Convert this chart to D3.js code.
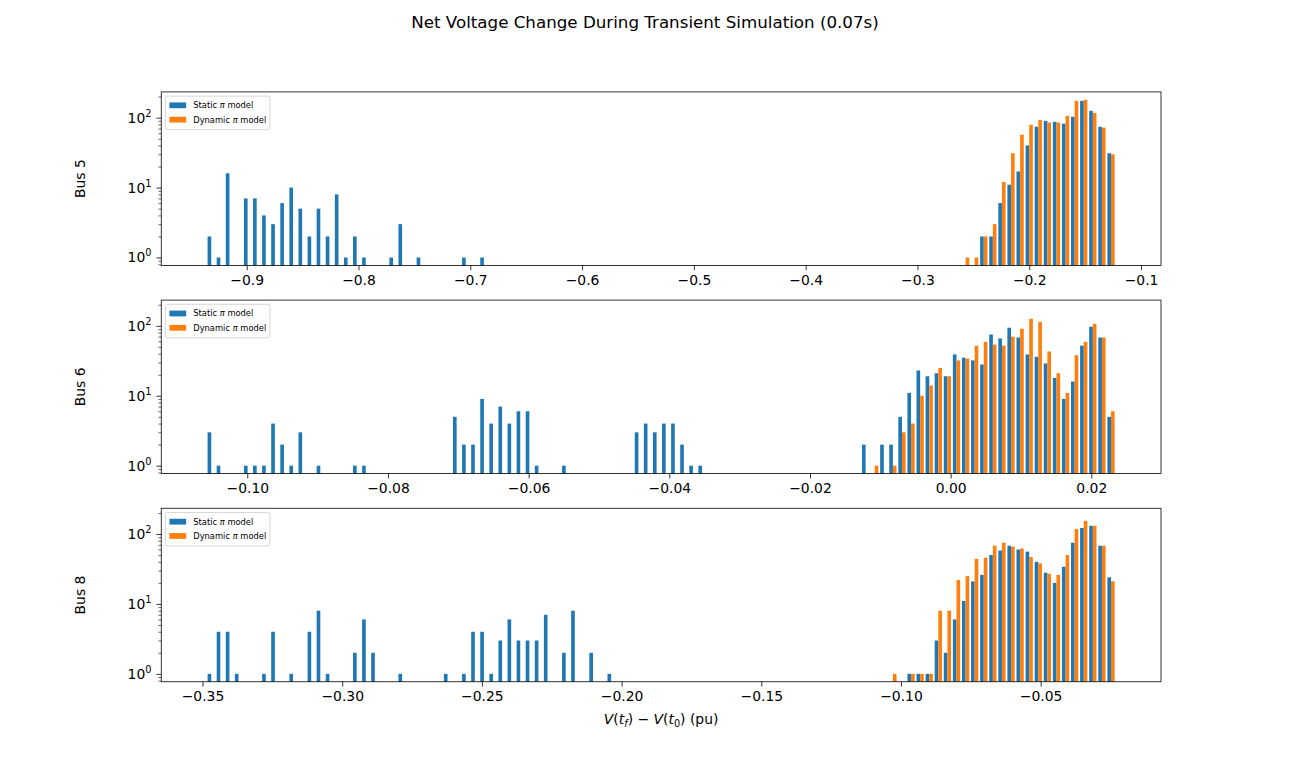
<!DOCTYPE html>
<html>
<head>
<meta charset="utf-8">
<script src="https://cdn.jsdelivr.net/npm/d3@7"></script>
<style>
  body { margin: 0; background: #fff; }
  text { font-family: "DejaVu Sans", sans-serif; }
</style>
</head>
<body>
<div id="chart"></div>
<script>
// ---- data (histogram counts, 100 equal bins between each bus's min and max) ----
var busNames = ["Bus 5", "Bus 6", "Bus 8"];
var seriesNames = ["Static", "Dynamic"];
var seriesColors = ["#1f77b4", "#ff7f0e"];

var bus5Range = [-0.93578, -0.12280];
var bus6Range = [-0.10577, 0.023443];
var bus8Range = [-0.34850, -0.02319];

var bus5Ticks = [-0.9, -0.8, -0.7, -0.6, -0.5, -0.4, -0.3, -0.2, -0.1];
var bus6Ticks = [-0.10, -0.08, -0.06, -0.04, -0.02, 0.00, 0.02];
var bus8Ticks = [-0.35, -0.30, -0.25, -0.20, -0.15, -0.10, -0.05];
var yTicks = [1, 10, 100];

var bus5Static = [
  2, 1, 16, 0, 7, 7, 4, 3, 6, 10,
  5, 2, 5, 2, 8, 1, 2, 1, 0, 0,
  1, 3, 0, 1, 0, 0, 0, 0, 1, 0,
  1, 0, 0, 0, 0, 0, 0, 0, 0, 0,
  0, 0, 0, 0, 0, 0, 0, 0, 0, 0,
  0, 0, 0, 0, 0, 0, 0, 0, 0, 0,
  0, 0, 0, 0, 0, 0, 0, 0, 0, 0,
  0, 0, 0, 0, 0, 0, 0, 0, 0, 0,
  0, 0, 0, 0, 0, 2, 2, 6, 11, 17,
  40, 74, 90, 87, 82, 103, 174, 125, 74, 31
];
var bus5Dynamic = [
  0, 0, 0, 0, 0, 0, 0, 0, 0, 0,
  0, 0, 0, 0, 0, 0, 0, 0, 0, 0,
  0, 0, 0, 0, 0, 0, 0, 0, 0, 0,
  0, 0, 0, 0, 0, 0, 0, 0, 0, 0,
  0, 0, 0, 0, 0, 0, 0, 0, 0, 0,
  0, 0, 0, 0, 0, 0, 0, 0, 0, 0,
  0, 0, 0, 0, 0, 0, 0, 0, 0, 0,
  0, 0, 0, 0, 0, 0, 0, 0, 0, 0,
  0, 0, 0, 1, 1, 2, 3, 12, 31, 57,
  79, 93, 85, 85, 106, 174, 180, 117, 72, 30
];

var bus6Static = [
  3, 1, 0, 0, 1, 1, 1, 4, 2, 1,
  3, 0, 1, 0, 0, 0, 1, 1, 0, 0,
  0, 0, 0, 0, 0, 0, 0, 5, 2, 2,
  9, 4, 7, 4, 6, 6, 1, 0, 0, 1,
  0, 0, 0, 0, 0, 0, 0, 3, 4, 3,
  4, 4, 2, 1, 1, 0, 0, 0, 0, 0,
  0, 0, 0, 0, 0, 0, 0, 0, 0, 0,
  0, 0, 2, 0, 2, 2, 5, 11, 23, 19,
  21, 19, 39, 35, 32, 28, 75, 66, 94, 68,
  39, 36, 29, 18, 9, 16, 52, 97, 68, 5
];
var bus6Dynamic = [
  0, 0, 0, 0, 0, 0, 0, 0, 0, 0,
  0, 0, 0, 0, 0, 0, 0, 0, 0, 0,
  0, 0, 0, 0, 0, 0, 0, 0, 0, 0,
  0, 0, 0, 0, 0, 0, 0, 0, 0, 0,
  0, 0, 0, 0, 0, 0, 0, 0, 0, 0,
  0, 0, 0, 0, 0, 0, 0, 0, 0, 0,
  0, 0, 0, 0, 0, 0, 0, 0, 0, 0,
  0, 0, 0, 1, 0, 1, 3, 4, 10, 14,
  25, 19, 32, 34, 52, 59, 54, 52, 70, 91,
  126, 114, 43, 21, 11, 38, 59, 107, 68, 6
];

var bus8Static = [
  1, 4, 4, 1, 0, 0, 1, 4, 0, 1,
  0, 4, 8, 1, 0, 0, 2, 6, 2, 0,
  0, 1, 0, 0, 0, 0, 1, 0, 1, 4,
  4, 1, 3, 6, 3, 3, 3, 7, 0, 2,
  8, 0, 2, 0, 1, 0, 0, 0, 0, 0,
  0, 0, 0, 0, 0, 0, 0, 0, 0, 0,
  0, 0, 0, 0, 0, 0, 0, 0, 0, 0,
  0, 0, 0, 0, 0, 0, 0, 1, 1, 1,
  3, 2, 6, 11, 21, 26, 50, 58, 68, 60,
  56, 40, 28, 20, 34, 75, 122, 131, 68, 24
];
var bus8Dynamic = [
  0, 0, 0, 0, 0, 0, 0, 0, 0, 0,
  0, 0, 0, 0, 0, 0, 0, 0, 0, 0,
  0, 0, 0, 0, 0, 0, 0, 0, 0, 0,
  0, 0, 0, 0, 0, 0, 0, 0, 0, 0,
  0, 0, 0, 0, 0, 0, 0, 0, 0, 0,
  0, 0, 0, 0, 0, 0, 0, 0, 0, 0,
  0, 0, 0, 0, 0, 0, 0, 0, 0, 0,
  0, 0, 0, 0, 0, 1, 0, 1, 1, 1,
  8, 8, 22, 25, 44, 46, 68, 75, 66, 62,
  47, 38, 27, 26, 50, 118, 154, 131, 68, 21
];

// panels built from the arrays above
var panels = [
  {name: busNames[0], range: bus5Range, ticks: bus5Ticks, fmt: ".1f", counts: [bus5Static, bus5Dynamic]},
  {name: busNames[1], range: bus6Range, ticks: bus6Ticks, fmt: ".2f", counts: [bus6Static, bus6Dynamic]},
  {name: busNames[2], range: bus8Range, ticks: bus8Ticks, fmt: ".2f", counts: [bus8Static, bus8Dynamic]}
];

function init(){
    // figure layout (matplotlib defaults)
    var W = 1290, H = 766;
    var left = 0.125 * W, right = 0.9 * W;
    var top = 0.12 * H, bottom = 0.89 * H;
    var hspace = 0.2;
    var pw = right - left;
    var ph = (bottom - top) / (3 + 2 * hspace);
    var gap = ph * hspace;

    var tickLen = 4.86, minorLen = 2.78, tickPad = 4.86;
    var fontSize = 13.9;

    var svg = d3.select("#chart").append("svg")
        .attr("width", W)
        .attr("height", H)
        .style("display", "block");
    svg.append("rect").attr("width", W).attr("height", H).attr("fill", "#fff");

    // title
    svg.append("text")
        .attr("x", W / 2)
        .attr("y", 28)
        .attr("text-anchor", "middle")
        .style("font-size", "16.7px")
        .text("Net Voltage Change During Transient Simulation (0.07s)");

    // shared log y scale, 5% margins in log space like matplotlib
    var maxCount = d3.max(panels, p => d3.max(p.counts, c => d3.max(c)));
    var yScale = d3.scaleLog()
        .domain([Math.pow(maxCount, -0.05), Math.pow(maxCount, 1.05)])
        .range([ph, 0]);

    var minorTicks = [];
    [0.1, 1, 10, 100].forEach(dec => {
        for (var m = 2; m <= 9; m++) {
            var v = m * dec;
            if (v >= yScale.domain()[0] && v <= yScale.domain()[1]) minorTicks.push(v);
        }
    });

    panels.forEach(function(p, k){
        var g = svg.append("g")
            .attr("transform", "translate(" + left + "," + (top + k * (ph + gap)) + ")");

        var lo = p.range[0], hi = p.range[1];
        var span = hi - lo;
        var nBins = p.counts[0].length;
        var bw = span / nBins;

        var xScale = d3.scaleLinear()
            .domain([lo - 0.05 * span, hi + 0.05 * span])
            .range([0, pw]);

        // bars: two series side by side in each bin (0.8 of bin width)
        p.counts.forEach(function(counts, s){
            var bars = counts.map((c, i) => ({c: c, i: i})).filter(d => d.c > 0);
            g.append("g").selectAll("rect")
                .data(bars)
                .enter()
                .append("rect")
                .attr("x", d => xScale(lo + (d.i + 0.1 + 0.4 * s) * bw))
                .attr("width", d => xScale(lo + (d.i + 0.5 + 0.4 * s) * bw) - xScale(lo + (d.i + 0.1 + 0.4 * s) * bw))
                .attr("y", d => yScale(d.c))
                .attr("height", d => ph - yScale(d.c))
                .attr("fill", seriesColors[s]);
        });

        // x axis
        var xAxis = g.append("g")
            .attr("transform", "translate(0," + ph + ")")
            .call(d3.axisBottom(xScale)
                .tickValues(p.ticks)
                .tickFormat(d3.format(p.fmt))
                .tickSize(tickLen)
                .tickPadding(tickPad));
        xAxis.select(".domain").remove();
        xAxis.selectAll("line").attr("stroke-width", 0.8);
        xAxis.selectAll("text")
            .attr("fill", "#000")
            .style("font-family", "DejaVu Sans")
            .style("font-size", fontSize + "px");

        // y axis major + minor ticks
        var yAxis = g.append("g")
            .call(d3.axisLeft(yScale).tickValues(yTicks).tickFormat("").tickSize(tickLen));
        yAxis.select(".domain").remove();
        yAxis.selectAll("line").attr("stroke-width", 0.8);
        var yMinor = g.append("g")
            .call(d3.axisLeft(yScale).tickValues(minorTicks).tickFormat("").tickSize(minorLen));
        yMinor.select(".domain").remove();
        yMinor.selectAll("line").attr("stroke-width", 0.6);

        // y tick labels as 10^n
        yTicks.forEach(function(v){
            var t = g.append("text")
                .attr("x", -tickLen - tickPad)
                .attr("y", yScale(v) + 5)
                .attr("text-anchor", "end")
                .style("font-size", fontSize + "px");
            t.append("tspan").text("10");
            t.append("tspan")
                .attr("dy", -6)
                .style("font-size", "9.8px")
                .text(Math.round(Math.log10(v)));
        });

        // frame
        g.append("rect")
            .attr("width", pw)
            .attr("height", ph)
            .attr("fill", "none")
            .attr("stroke", "#000")
            .attr("stroke-width", 0.8);

        // y label
        g.append("text")
            .attr("transform", "translate(" + (80 - left + 5) + "," + (ph / 2) + ") rotate(-90)")
            .attr("text-anchor", "middle")
            .style("font-size", fontSize + "px")
            .text(p.name);

        // legend
        var lg = g.append("g").attr("transform", "translate(4.2,4.2)");
        lg.append("rect")
            .attr("width", 104.5)
            .attr("height", 33.5)
            .attr("rx", 2)
            .attr("fill", "#fff")
            .attr("fill-opacity", 0.8)
            .attr("stroke", "#cccccc")
            .attr("stroke-width", 0.8);
        seriesNames.forEach(function(nm, s){
            var cy = 9.2 + s * 14.3;
            lg.append("rect")
                .attr("x", 4)
                .attr("y", cy - 2.9)
                .attr("width", 16.7)
                .attr("height", 5.8)
                .attr("fill", seriesColors[s]);
            var t = lg.append("text")
                .attr("x", 27.8)
                .attr("y", cy + 3)
                .style("font-size", "8.33px");
            t.append("tspan").text(nm + " ");
            t.append("tspan").style("font-style", "italic").text("π");
            t.append("tspan").text(" model");
        });

        // x label on the last panel
        if (k == panels.length - 1) {
            var xl = g.append("text")
                .attr("x", pw / 2)
                .attr("y", ph + 42.5)
                .attr("text-anchor", "middle")
                .style("font-size", fontSize + "px");
            xl.append("tspan").style("font-style", "italic").text("V");
            xl.append("tspan").text("(");
            xl.append("tspan").style("font-style", "italic").text("t");
            xl.append("tspan").attr("dy", 3).style("font-style", "italic").style("font-size", "9.7px").text("f");
            xl.append("tspan").attr("dy", -3).text(") − ");
            xl.append("tspan").style("font-style", "italic").text("V");
            xl.append("tspan").text("(");
            xl.append("tspan").style("font-style", "italic").text("t");
            xl.append("tspan").attr("dy", 3).style("font-size", "9.7px").text("0");
            xl.append("tspan").attr("dy", -3).text(") (pu)");
        }
    });
}
window.onload = init;
</script>
</body>
</html>
